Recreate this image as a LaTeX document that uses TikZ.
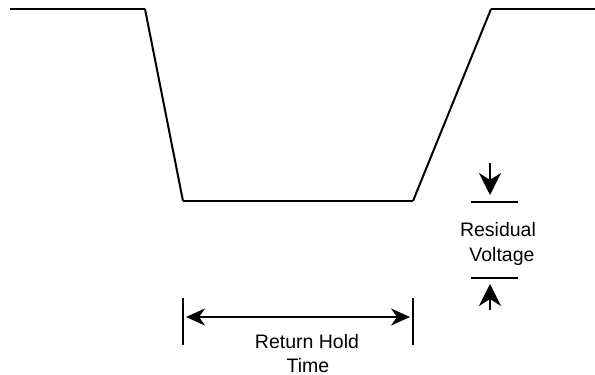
\documentclass[tikz,border=0pt]{standalone}
\usepackage{fontspec}
\setmainfont{Liberation Sans}
\usetikzlibrary{arrows.meta}
\begin{document}
\begin{tikzpicture}[x=1pt,y=-1pt,
  wave/.style={line width=2pt,line join=miter},
  bar/.style={line width=2.6pt},
  vtip/.tip={Stealth[length=22pt,width=22pt,inset=7pt]},
  htip/.tip={Stealth[length=19pt,width=17pt,inset=6pt]},
  dimarrow/.style={line width=2pt,-vtip},
  dimboth/.style={line width=2pt,htip-htip},
  lbl/.style={font=\fontsize{19.5}{26}\selectfont,inner sep=0pt,anchor=base}]
\useasboundingbox (0,0) rectangle (595,375);
% waveform
\coordinate (w0) at (10,9);
\coordinate (w1) at (145,9);
\coordinate (w2) at (183,201);
\coordinate (w3) at (413,201);
\coordinate (w4) at (491,9);
\coordinate (w5) at (595,9);
\draw[line width=1.5pt] (w0) -- (w1);
\draw[wave] (w1) -- (w2);
\draw[line width=2.6pt] (w2) -- (w3);
\draw[wave] (w3) -- (w4);
\draw[line width=1.5pt] (w4) -- (w5);
% residual voltage
\coordinate (rb1) at (471,202);
\coordinate (rb2) at (518,202);
\coordinate (rb3) at (471,278);
\coordinate (rb4) at (518,278);
\draw[bar] (rb1) -- (rb2);
\draw[bar] (rb3) -- (rb4);
\coordinate (ra1s) at (490,163);
\coordinate (ra1e) at (490,195);
\coordinate (ra2s) at (490,310);
\coordinate (ra2e) at (490,284);
\draw[dimarrow] (ra1s) -- (ra1e);
\draw[dimarrow] (ra2s) -- (ra2e);
\node[lbl] (rv1) at (498,236.5) {Residual};
\node[lbl] (rv2) at (502,261.5) {Voltage};
% return hold time
\coordinate (t1a) at (183,298);
\coordinate (t1b) at (183,345);
\coordinate (t2a) at (413,298);
\coordinate (t2b) at (413,345);
\draw[bar] (t1a) -- (t1b);
\draw[bar] (t2a) -- (t2b);
\coordinate (ta) at (186,317);
\coordinate (tb) at (410,317);
\draw[dimboth] (ta) -- (tb);
\node[lbl] (rh1) at (307,348) {Return Hold};
\node[lbl] (rh2) at (308,372) {Time};
\end{tikzpicture}
\end{document}
